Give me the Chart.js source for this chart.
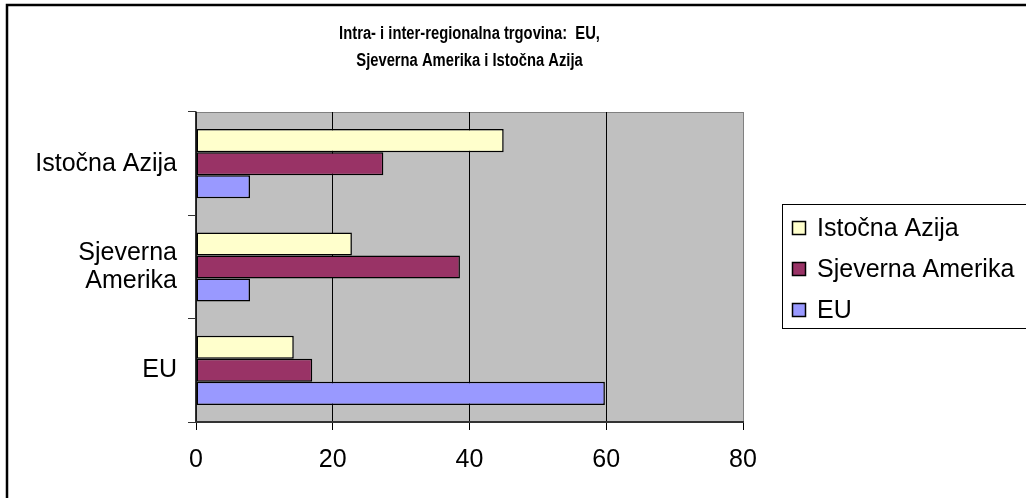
<!DOCTYPE html>
<html>
<head>
<meta charset="utf-8">
<script src="https://cdn.jsdelivr.net/npm/chart.js@4/dist/chart.umd.min.js"></script>
<style>
  html, body { margin: 0; padding: 0; background: #fff; }
  canvas { display: block; }
</style>
</head>
<body>
<canvas id="trade_chart" width="1026" height="498"></canvas>
<script>
// kategorije (odozgo prema dolje) i serije
const categories = ['Istočna Azija', ['Sjeverna', 'Amerika'], 'EU'];
const seriesNames = ['Istočna Azija', 'Sjeverna Amerika', 'EU'];
const istocnaAzija = [45.0, 22.8, 14.3];
const sjevernaAmerika = [27.4, 38.6, 17.0];
const eu = [7.9, 7.9, 59.8];
const xTicks = [0, 20, 40, 60, 80];
const titleLines = ['Intra- i inter-regionalna trgovina:  EU,', 'Sjeverna Amerika i Istočna Azija'];

const COLORS = ['#FFFFCC', '#993366', '#9999FF'];
const FONT = 'Liberation Sans, Arial, sans-serif';

// pozadina, okvir, naslov
const decorPlugin = {
    id: 'decor',
    beforeDraw(chart) {
        const ctx = chart.ctx;
        const a = chart.chartArea;
        ctx.save();
        ctx.fillStyle = '#fff';
        ctx.fillRect(0, 0, chart.width, chart.height);
        // vanjski okvir
        ctx.strokeStyle = '#000';
        ctx.lineWidth = 2.5;
        ctx.strokeRect(7, 5, 1200, 700);
        // plot area
        ctx.fillStyle = '#C0C0C0';
        ctx.fillRect(a.left, a.top, a.right - a.left, a.bottom - a.top);
        ctx.strokeStyle = '#808080';
        ctx.lineWidth = 1;
        ctx.beginPath();
        ctx.moveTo(a.left, a.top + 0.5);
        ctx.lineTo(a.right + 0.5, a.top + 0.5);
        ctx.lineTo(a.right + 0.5, a.bottom);
        ctx.stroke();
        // naslov
        ctx.fillStyle = '#000';
        ctx.font = 'bold 18px ' + FONT;
        ctx.textAlign = 'center';
        ctx.textBaseline = 'middle';
        const cx = (a.left + a.right) / 2;
        titleLines.forEach((line, i) => {
            ctx.save();
            ctx.translate(cx, 34 + i * 27);
            ctx.scale(0.82, 1);
            ctx.fillText(line, 0, 0);
            ctx.restore();
        });
        ctx.restore();
    },
    afterDraw(chart) {
        // legenda
        const ctx = chart.ctx;
        ctx.save();
        ctx.strokeStyle = '#000';
        ctx.lineWidth = 1;
        ctx.fillStyle = '#fff';
        ctx.fillRect(782.5, 204.5, 400, 124);
        ctx.strokeRect(782.5, 204.5, 400, 124);
        ctx.font = '25px ' + FONT;
        ctx.textAlign = 'left';
        ctx.textBaseline = 'middle';
        chart.data.datasets.forEach((ds, i) => {
            const y = 228 + i * 41;
            ctx.fillStyle = ds.backgroundColor;
            ctx.fillRect(792.5, y - 6.5, 13, 13);
            ctx.strokeStyle = '#000';
            ctx.lineWidth = 1.5;
            ctx.strokeRect(792.5, y - 6.5, 13, 13);
            ctx.fillStyle = '#000';
            ctx.fillText(ds.label, 817, y + 1);
        });
        ctx.restore();
    }
};

const datasets = [istocnaAzija, sjevernaAmerika, eu].map((values, i) => ({
    label: seriesNames[i],
    data: values,
    backgroundColor: COLORS[i],
    borderColor: '#000',
    borderWidth: 1.5,
    borderSkipped: false,
    categoryPercentage: 0.67,
    barPercentage: 1.0
}));

new Chart(document.getElementById('trade_chart').getContext('2d'), {
    type: 'bar',
    data: { labels: categories, datasets: datasets },
    plugins: [decorPlugin],
    options: {
        indexAxis: 'y',
        responsive: false,
        animation: false,
        layout: { padding: { top: 112, right: 283, left: 0, bottom: 0 } },
        plugins: {
            legend: { display: false },
            title: { display: false },
            tooltip: { enabled: false }
        },
        scales: {
            x: {
                min: xTicks[0],
                max: xTicks[xTicks.length - 1],
                afterFit: (scale) => { scale.height = 76; },
                afterBuildTicks: (scale) => { scale.ticks = xTicks.map(v => ({ value: v })); },
                ticks: {
                    color: '#000',
                    padding: 15,
                    font: { family: FONT, size: 25 }
                },
                grid: {
                    color: (c) => (c.tick && c.tick.value === 80) ? '#808080' : '#000',
                    tickColor: '#000',
                    tickLength: 8,
                    lineWidth: 1
                },
                border: { color: '#333', width: 2 }
            },
            y: {
                afterFit: (scale) => { scale.width = 196; },
                ticks: {
                    color: '#000',
                    padding: 11,
                    font: { family: FONT, size: 25, lineHeight: 1.1 }
                },
                grid: {
                    offset: true,
                    drawOnChartArea: false,
                    tickLength: 8,
                    tickColor: '#333'
                },
                border: { color: '#333', width: 1.5 }
            }
        }
    }
});
</script>
</body>
</html>
